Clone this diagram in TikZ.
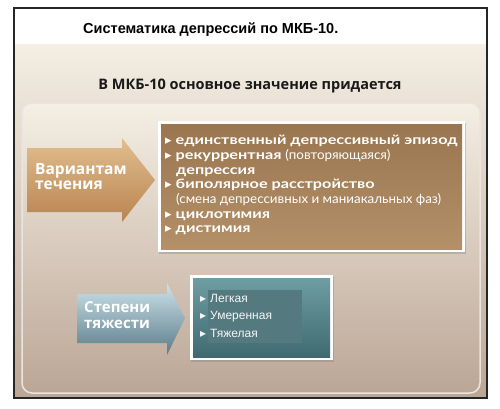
\documentclass[tikz,border=0pt]{standalone}
\usepackage{fontspec}
\setmainfont{Open Sans}
\newfontfamily\titlefont{Liberation Sans}
\newfontfamily\listfont[FakeStretch=1.25]{Lato}
\newfontfamily\listlight[FakeStretch=1.03]{Lato}
\newfontfamily\symfont{DejaVu Sans}
\usetikzlibrary{positioning, shadows}

\definecolor{cream}{HTML}{F4EEE3}
\definecolor{taupe}{HTML}{BBA696}
\definecolor{tanlight}{HTML}{E2BE90}
\definecolor{tandark}{HTML}{B8844F}
\definecolor{boxtop}{HTML}{9A7650}
\definecolor{boxbot}{HTML}{B39068}
\definecolor{steellight}{HTML}{CDE2EA}
\definecolor{steeldark}{HTML}{5A7C88}
\definecolor{tealtop}{HTML}{6E9DA2}
\definecolor{tealbot}{HTML}{3F6A71}
\definecolor{tealin}{HTML}{54797F}

\newcommand{\bul}{{\symfont\char"25B8}\hspace{4pt}}
\newcommand{\ind}{\hspace*{11pt}}
\newcommand{\light}[1]{{\listlight\mdseries #1}}

\begin{document}
\begin{tikzpicture}[
    x=1pt, y=-1pt,
    label/.style={anchor=north west, align=left, inner sep=0pt, text=white, font=\bfseries\fontsize{15.5}{16}\selectfont},
    list/.style={anchor=north west, align=left, inner sep=0pt, text=white},
    frame/.style={fill=white, drop shadow={shadow xshift=1pt, shadow yshift=-1.5pt, opacity=0.35}},
]
    \useasboundingbox (0,0) rectangle (500,408);
    \fill[white] (0,0) rectangle (500,408);

    % background and panel
    \shade[top color=cream, bottom color=taupe] (14,44) rectangle (487,398);
    \shade[top color=cream!95!white, bottom color=taupe, rounded corners=10pt, draw=white!70!taupe, line width=1.5pt] (22,103) rectangle (480,393);
    \draw[line width=2.4pt, black!85] (14,8) rectangle (487,398);

    \node[anchor=base west, inner sep=0pt, font=\titlefont\bfseries\fontsize{14.5}{16}\selectfont] (title) at (83,33) {Систематика депрессий по МКБ-10.};
    \node[anchor=base, inner sep=0pt, font=\bfseries\fontsize{14.5}{17}\selectfont, text=black!90] (head) at (250,89) {В МКБ-10 основное значение придается};

    % course variants
    \shade[top color=tanlight, bottom color=tandark] (27,148) -- (122,148) -- (122,138) -- (155,180) -- (122,222) -- (122,212) -- (27,212) -- cycle;
    \node[label] (course) at (35,163) {Вариантам\\[-1pt]течения};

    \fill[frame] (158,121) rectangle (465,252);
    \shade[top color=boxtop, bottom color=boxbot] (161,124) rectangle (462,249);
    \node[list, font=\listfont\bfseries\fontsize{13}{14.7}\selectfont] (courselist) at (165,135) {%
        \bul единственный депрессивный эпизод\\
        \bul рекуррентная \light{(повторяющаяся)}\\
        \ind депрессия\\
        \bul биполярное расстройство\\
        \ind\light{(смена депрессивных и маниакальных фаз)}\\
        \bul циклотимия\\
        \bul дистимия};

    % severity
    \shade[top color=steellight, bottom color=steeldark] (77,294) -- (167,294) -- (167,283) -- (185,318) -- (167,355) -- (167,343) -- (77,343) -- cycle;
    \node[label, font=\bfseries\fontsize{15}{16}\selectfont] (severity) at (84,301) {Степени\\[0pt]тяжести};

    \fill[frame] (190,275) rectangle (333,360);
    \shade[top color=tealtop, bottom color=tealbot] (193,278) rectangle (330,357);
    \fill[tealin] (208,290) rectangle (302,343);
    \node[list, text=white!92!tealtop, font=\titlefont\fontsize{12}{17.5}\selectfont] (sevlist) at (200,294) {%
        \bul Легкая\\
        \bul Умеренная\\
        \bul Тяжелая};
\end{tikzpicture}
\end{document}
